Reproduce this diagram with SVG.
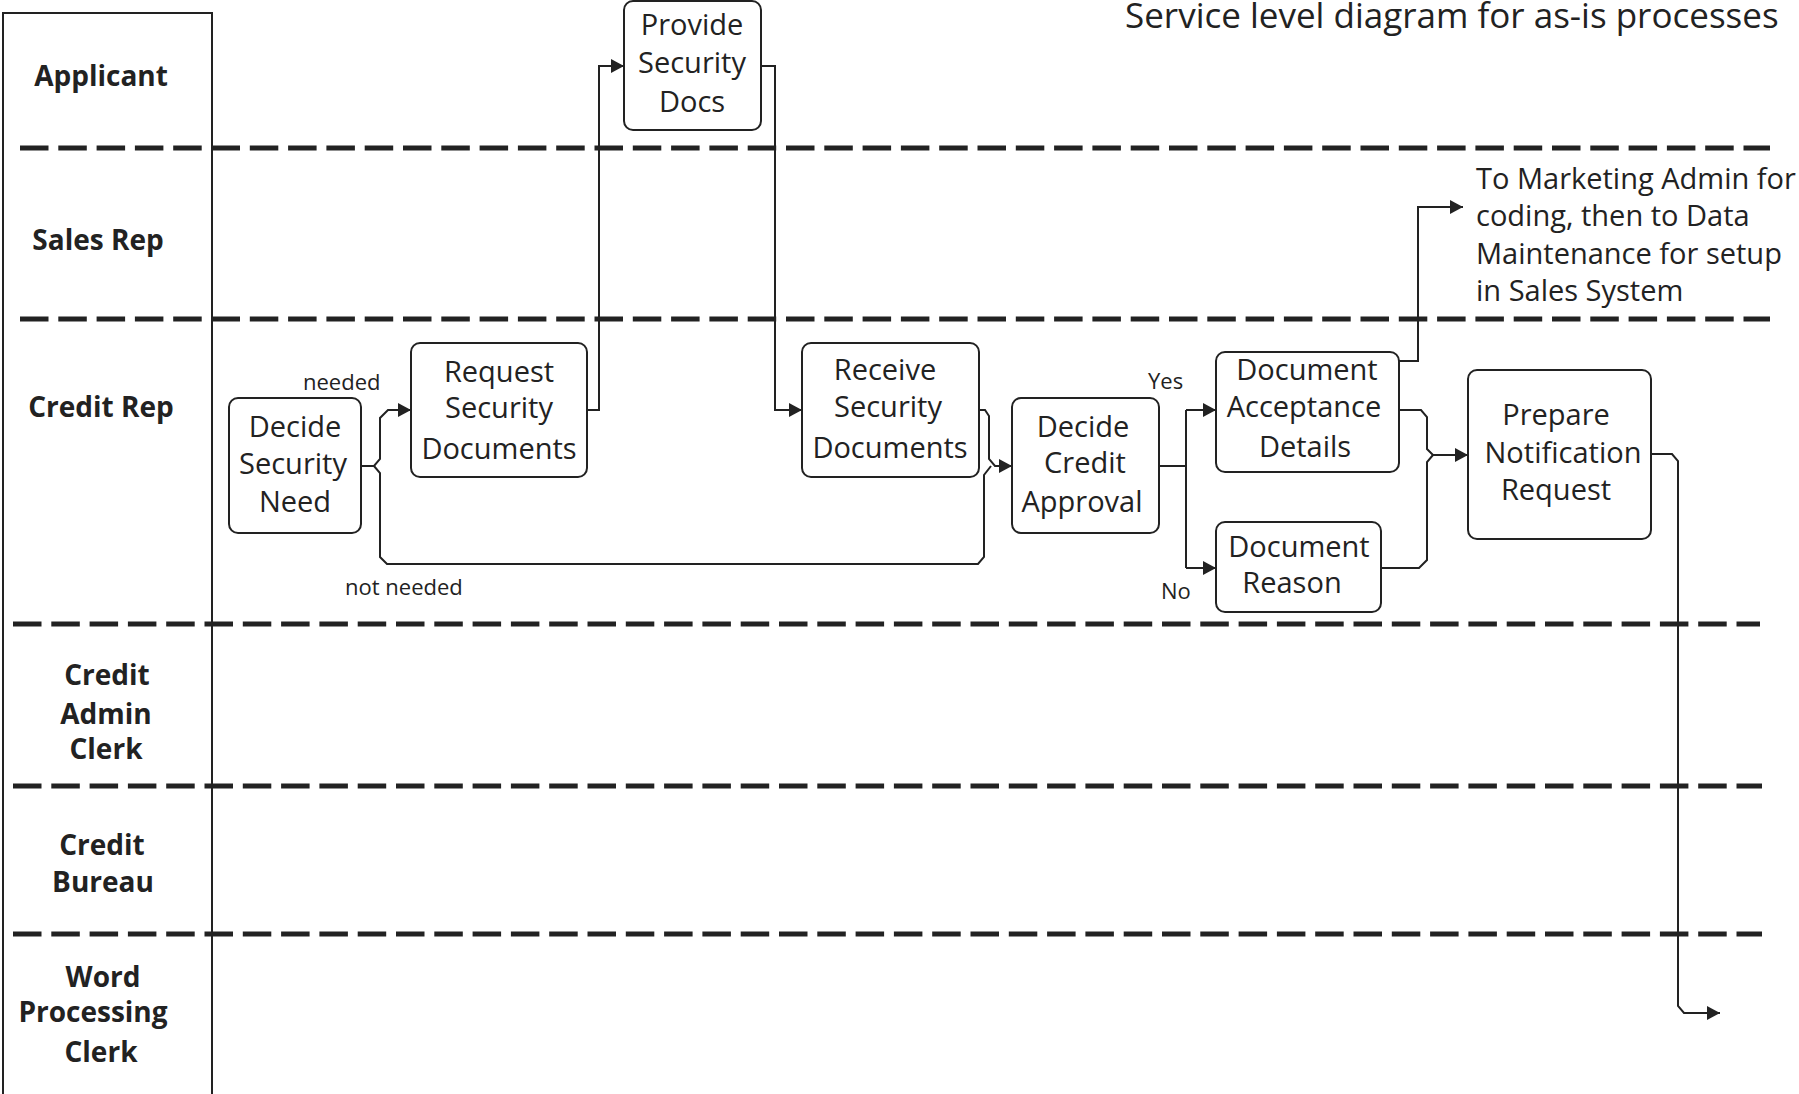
<svg xmlns="http://www.w3.org/2000/svg" width="1799" height="1094" viewBox="0 0 1799 1094">
  <style>
    text { font-family: "Open Sans", "Noto Sans", sans-serif; fill: #222; }
    .lane { font-size: 28px; font-weight: bold; text-anchor: middle; }
    .node rect { fill: #fff; stroke: #222; stroke-width: 2; }
    .node text { font-size: 29px; text-anchor: middle; }
    .lbl { font-size: 22px; }
    .note { font-size: 29px; }
    .title { font-size: 35px; }
    .divider { stroke: #222; stroke-width: 5; stroke-dasharray: 28.5 9.8; fill: none; }
    .frame { stroke: #222; stroke-width: 2; fill: none; }
    #connectors path { fill: none; stroke: #222; stroke-width: 2; }
  </style>
  <defs>
    <marker id="arrow" markerUnits="userSpaceOnUse" markerWidth="14" markerHeight="14" refX="13" refY="7" orient="auto">
      <path d="M0,0 L13,7 L0,14 Z" fill="#222"/>
    </marker>
  </defs>

  <rect width="1799" height="1094" fill="#fff"/>

  <!-- title -->
  <text class="title" x="1125" y="28">Service level diagram for as-is processes</text>

  <!-- lane header column -->
  <path class="frame" d="M3,1094 V13 H212 V1094"/>

  <!-- lane dividers -->
  <g id="dividers">
    <line class="divider" x1="20" y1="148" x2="1770" y2="148"/>
    <line class="divider" x1="20" y1="319" x2="1770" y2="319"/>
    <line class="divider" x1="13" y1="624" x2="1760" y2="624"/>
    <line class="divider" x1="13" y1="786" x2="1762" y2="786"/>
    <line class="divider" x1="13" y1="934" x2="1762" y2="934"/>
  </g>

  <!-- lane names -->
  <g id="lanes">
    <text class="lane" x="101" y="86">Applicant</text>
    <text class="lane" x="98" y="250">Sales Rep</text>
    <text class="lane" x="101" y="417">Credit Rep</text>
    <text class="lane" x="107" y="685">Credit</text>
    <text class="lane" x="106" y="724">Admin</text>
    <text class="lane" x="106" y="759">Clerk</text>
    <text class="lane" x="102" y="855">Credit</text>
    <text class="lane" x="103" y="892">Bureau</text>
    <text class="lane" x="103" y="987">Word</text>
    <text class="lane" x="93" y="1022">Processing</text>
    <text class="lane" x="101" y="1062">Clerk</text>
  </g>

  <!-- connectors -->
  <g id="connectors">
    <path d="M361,466 H374 L380,459 V418 L388,410 H411" marker-end="url(#arrow)"/>
    <path d="M374,466 L380,473 V557 L387,564 H978 L984,557 V475 L991,466"/>
    <path d="M977,410 H985 L989,416 V459 L995,466 H1012" marker-end="url(#arrow)"/>
    <path d="M587,410 H599 V66 H624" marker-end="url(#arrow)"/>
    <path d="M761,66 H775 V410 H802" marker-end="url(#arrow)"/>
    <path d="M1159,466 H1186"/>
    <path d="M1186,410 V568"/>
    <path d="M1186,410 H1216" marker-end="url(#arrow)"/>
    <path d="M1186,568 H1216" marker-end="url(#arrow)"/>
    <path d="M1399,361 H1418 V207 H1463" marker-end="url(#arrow)"/>
    <path d="M1399,410 H1421 L1427,417 V449 L1433,455 H1468" marker-end="url(#arrow)"/>
    <path d="M1381,568 H1419 L1427,560 V462 L1433,455"/>
    <path d="M1651,454 H1672 L1678,461 V1006 L1684,1013 H1720" marker-end="url(#arrow)"/>
  </g>

  <!-- connector labels -->
  <text class="lbl" x="303" y="390">needed</text>
  <text class="lbl" x="345" y="595">not needed</text>
  <text class="lbl" x="1148" y="389">Yes</text>
  <text class="lbl" x="1161" y="599">No</text>
  <g class="note">
    <text x="1476" y="189">To Marketing Admin for</text>
    <text x="1476" y="226">coding, then to Data</text>
    <text x="1476" y="264">Maintenance for setup</text>
    <text x="1476" y="301">in Sales System</text>
  </g>

  <!-- process nodes -->
  <g id="provide-security-docs" class="node">
    <rect x="624" y="1" width="137" height="129" rx="9"/>
    <text x="692" y="35">Provide</text>
    <text x="692" y="73">Security</text>
    <text x="692" y="112">Docs</text>
  </g>
  <g id="request-security-documents" class="node">
    <rect x="411" y="343" width="176" height="134" rx="9"/>
    <text x="499" y="382">Request</text>
    <text x="499" y="418">Security</text>
    <text x="499" y="459">Documents</text>
  </g>
  <g id="decide-security-need" class="node">
    <rect x="229" y="398" width="132" height="135" rx="9"/>
    <text x="295" y="437">Decide</text>
    <text x="293" y="474">Security</text>
    <text x="295" y="512">Need</text>
  </g>
  <g id="receive-security-documents" class="node">
    <rect x="802" y="343" width="177" height="134" rx="9"/>
    <text x="885" y="380">Receive</text>
    <text x="888" y="417">Security</text>
    <text x="890" y="458">Documents</text>
  </g>
  <g id="decide-credit-approval" class="node">
    <rect x="1012" y="398" width="147" height="135" rx="9"/>
    <text x="1083" y="437">Decide</text>
    <text x="1085" y="473">Credit</text>
    <text x="1082" y="512">Approval</text>
  </g>
  <g id="document-acceptance-details" class="node">
    <rect x="1216" y="352" width="183" height="120" rx="9"/>
    <text x="1307" y="380">Document</text>
    <text x="1304" y="417">Acceptance</text>
    <text x="1305" y="457">Details</text>
  </g>
  <g id="document-reason" class="node">
    <rect x="1216" y="522" width="165" height="90" rx="9"/>
    <text x="1299" y="557">Document</text>
    <text x="1292" y="593">Reason</text>
  </g>
  <g id="prepare-notification-request" class="node">
    <rect x="1468" y="370" width="183" height="169" rx="9"/>
    <text x="1556" y="425">Prepare</text>
    <text x="1563" y="463">Notification</text>
    <text x="1556" y="500">Request</text>
  </g>
</svg>
